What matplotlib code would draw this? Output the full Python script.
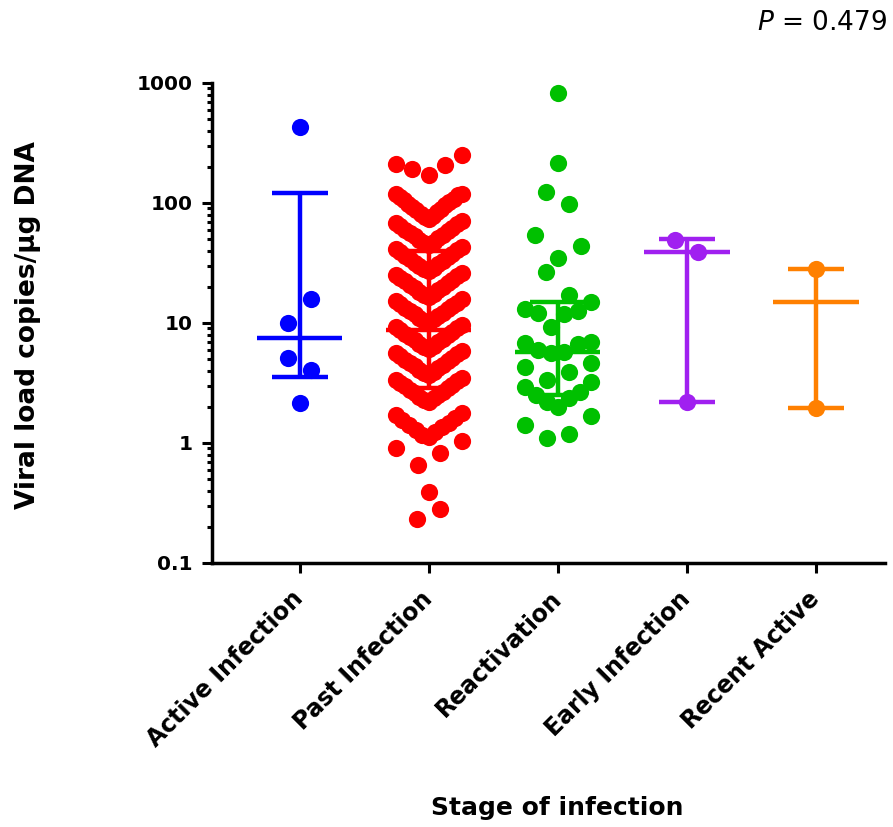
import numpy as np
import matplotlib
matplotlib.use("Agg")
import matplotlib.pyplot as plt

plt.rcParams["font.family"] = ["DejaVu Sans"]
plt.rcParams["mathtext.fontset"] = "custom"
plt.rcParams["mathtext.it"] = "DejaVu Sans:italic"
plt.rcParams["mathtext.rm"] = "DejaVu Sans"

# ── data (viral load copies/µg DNA) ──
groups = ["Active Infection", "Past Infection", "Reactivation",
          "Early Infection", "Recent Active"]
colors = ["#0000FF", "#FF0000", "#00C000", "#A020F0", "#FF8000"]

active = [2.15, 5.1, 4.06, 10.0, 15.8, 430]
past = [0.233, 0.28, 0.39,
        0.655, 0.825, 0.908, 1.04,
        1.12, 1.17, 1.23, 1.29, 1.35, 1.41, 1.48, 1.55, 1.62, 1.70, 1.78,
        2.20, 2.27, 2.35, 2.43, 2.51, 2.59, 2.68, 2.77, 2.86, 2.96, 3.06,
        3.16, 3.26, 3.37, 3.49,
        3.69, 3.81, 3.94, 4.07, 4.21, 4.35, 4.49, 4.64, 4.80, 4.96, 5.12,
        5.29, 5.47, 5.65, 5.85,
        6.07, 6.27, 6.48, 6.70, 6.92, 7.15, 7.39, 7.64, 7.89, 8.16, 8.43,
        8.71, 9.00, 9.30, 9.61,
        10.0, 10.3, 10.7, 11.0, 11.4, 11.8, 12.2, 12.6, 13.0, 13.4, 13.9,
        14.4, 14.8, 15.3, 15.8,
        16.5, 17.1, 17.6, 18.2, 18.8, 19.4, 20.1, 20.8, 21.5, 22.2, 22.9,
        23.7, 24.5, 25.3, 26.1,
        27.1, 28.0, 28.9, 29.9, 30.9, 31.9, 33.0, 34.1, 35.3, 36.4, 37.7,
        38.9, 40.2, 41.5, 42.9,
        44.7, 46.2, 47.7, 49.3, 51.0, 52.7, 54.4, 56.3, 58.1, 60.1, 62.1,
        64.2, 66.3, 68.5, 70.8,
        73.6, 76.1, 78.6, 81.2, 83.9, 86.7, 89.6, 92.6, 95.7, 98.9, 102,
        106, 109, 113, 117, 118.5, 119.5,
        171, 192, 207, 210, 251]
reactivation = [1.10, 1.19, 1.41, 1.68,
                2.00, 2.20, 2.37, 2.51, 2.66, 2.93, 3.22,
                3.35, 3.91, 4.30, 4.64,
                5.62, 5.74, 5.96, 6.70, 6.80, 6.90,
                9.26, 11.8, 12.2, 12.6, 13.0, 15.0,
                26.6, 17.1,
                34.8, 54.0, 44.0,
                124.0, 98.0,
                215.0, 826.0]
early = [2.2, 49.0, 39.0]
recent = [1.95, 28.2]

# median with interquartile range, as drawn
medians = [7.5, 8.8, 5.7, 39.0, 15.0]
q1 = [3.55, 2.9, 2.5, 2.2, 1.95]
q3 = [121.0, 40.0, 15.0, 50.0, 28.2]

yticks = [0.1, 1, 10, 100, 1000]
yticklabels = ["0.1", "1", "10", "100", "1000"]
p_text = "$P$ = 0.479"


def swarm_offsets(vals, h=0.2125, step=0.178, half=0.256):
    """Prism-like row scatter: points within h decades share a row and are
    spread symmetrically (in data order) around the column centre."""
    vals = np.asarray(vals, float)
    logs = np.log10(vals)
    idx = list(np.argsort(vals, kind="stable"))
    offs = np.zeros(len(vals))
    i = 0
    while i < len(idx):
        j = i
        while j + 1 < len(idx) and logs[idx[j + 1]] - logs[idx[i]] <= h:
            j += 1
        row = sorted(idx[i:j + 1])
        n = len(row)
        s = step if n == 1 else min(step, 2 * half / (n - 1))
        for k, p in enumerate(row):
            if n % 2:
                m = (k + 1) // 2
                offs[p] = (-1 if k % 2 else 1) * m * s
            else:
                m = k // 2
                offs[p] = (-1 if k % 2 == 0 else 1) * (m + 0.5) * s
        i = j + 1
    return offs


data = [active, past, reactivation, early, recent]

W, H = 893, 827
fig = plt.figure(figsize=(W / 100, H / 100), dpi=100)
ax = fig.add_axes([212 / W, 1 - 563 / H, (885 - 212) / W, (563 - 83) / H])

for i, (vals, c) in enumerate(zip(data, colors)):
    xs = i + swarm_offsets(vals)
    ax.plot(xs, vals, "o", ms=12.4, color=c, mec="none", zorder=3)

x = np.arange(len(groups))
ax.vlines(x, q1, q3, colors=colors, lw=3.2, zorder=4)
ax.hlines(q1, x - 0.215, x + 0.215, colors=colors, lw=3.2, zorder=4)
ax.hlines(q3, x - 0.215, x + 0.215, colors=colors, lw=3.2, zorder=4)
ax.hlines(medians, x - 0.33, x + 0.33, colors=colors, lw=3.2, zorder=4)

ax.set_yscale("log")
ax.set_ylim(0.1, 1000)
ax.set_xlim(-0.68, (885 - 300) / 129)
ax.set_yticks(yticks)
ax.set_yticklabels(yticklabels, fontsize=14.5, fontweight="bold")
ax.set_xticks(x)
ax.set_xticklabels(groups, rotation=45, ha="right", va="center",
                   rotation_mode="anchor", fontsize=17, fontweight="bold")

for sp in ("top", "right"):
    ax.spines[sp].set_visible(False)
for sp in ("left", "bottom"):
    ax.spines[sp].set_linewidth(2.5)
ax.tick_params(axis="y", which="major", length=7.2, width=2.2, pad=7)
ax.tick_params(axis="y", which="minor", length=3.6, width=2.2)
ax.tick_params(axis="x", length=7.2, width=2.2, pad=16)

ax.set_ylabel("Viral load copies/µg DNA", fontsize=19, fontweight="bold",
              va="center")
ax.yaxis.set_label_coords((28 - 212) / 673, (563 - 325) / 480)
ax.set_xlabel("Stage of infection", fontsize=18, fontweight="bold",
              va="center")
ax.xaxis.set_label_coords((557 - 212) / 673, -(808 - 563) / 480)

fig.text(887 / W, 1 - 30 / H, p_text, ha="right", va="baseline", fontsize=19)

fig.savefig("out.png", dpi=100, facecolor="white")
